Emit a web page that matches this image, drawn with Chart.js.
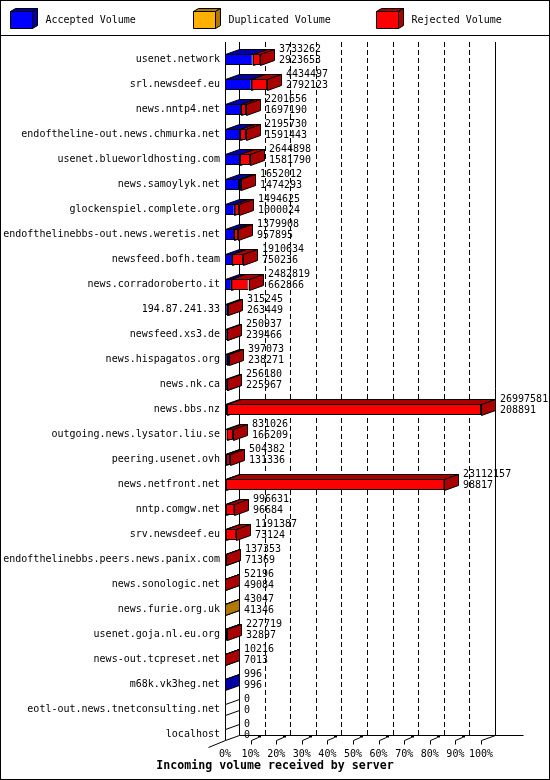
<!DOCTYPE html>
<html>
<head>
<meta charset="utf-8">
<script src="https://cdn.jsdelivr.net/npm/chart.js@4.4.0/dist/chart.umd.min.js"></script>
<style>
  html, body { margin: 0; padding: 0; background: #fff; }
  #chart { display: block; }
</style>
</head>
<body>
<canvas id="chart" width="550" height="780"></canvas>
<script>
// servers, in the order they are listed
const servers = [
  'usenet.network', 'srl.newsdeef.eu', 'news.nntp4.net', 'endoftheline-out.news.chmurka.net',
  'usenet.blueworldhosting.com', 'news.samoylyk.net', 'glockenspiel.complete.org',
  'endofthelinebbs-out.news.weretis.net', 'newsfeed.bofh.team', 'news.corradoroberto.it',
  '194.87.241.33', 'newsfeed.xs3.de', 'news.hispagatos.org', 'news.nk.ca', 'news.bbs.nz',
  'outgoing.news.lysator.liu.se', 'peering.usenet.ovh', 'news.netfront.net', 'nntp.comgw.net',
  'srv.newsdeef.eu', 'endofthelinebbs.peers.news.panix.com', 'news.sonologic.net',
  'news.furie.org.uk', 'usenet.goja.nl.eu.org', 'news-out.tcpreset.net', 'm68k.vk3heg.net',
  'eotl-out.news.tnetconsulting.net', 'localhost'
];

// volumes
const accepted = [2923653, 2792123, 1697190, 1591443, 1581790, 1474293, 1000024, 957895,
  750236, 662866, 263449, 239466, 238271, 225967, 208891, 166209, 131336, 98817, 96684,
  73124, 71369, 49084, 41346, 32897, 7013, 996, 0, 0];
const duplicated = [0, 0, 0, 0, 0, 0, 0, 0, 0, 0, 0, 0, 0, 0, 0, 0, 0, 0, 0, 0, 0, 0,
  1701, 0, 0, 0, 0, 0];
const rejected = [809609, 1642374, 504466, 604287, 1063108, 177719, 494601, 422013,
  1160398, 1819953, 51796, 11471, 158802, 30213, 26788690, 664817, 373046, 23013340,
  899947, 1118263, 65984, 3112, 0, 194822, 3203, 0, 0, 0];

const scaleMax = 26997581;
const xTickLabels = ['0%', '10%', '20%', '30%', '40%', '50%', '60%', '70%', '80%', '90%', '100%'];

const FONT = '"DejaVu Sans Mono", "Liberation Mono", monospace';
const depthX = 14;
const depthY = 5;

function poly(ctx, pts, fill) {
  ctx.beginPath();
  ctx.moveTo(pts[0][0], pts[0][1]);
  for (let i = 1; i < pts.length; i++) ctx.lineTo(pts[i][0], pts[i][1]);
  ctx.closePath();
  ctx.fillStyle = fill;
  ctx.fill();
  ctx.strokeStyle = '#000';
  ctx.lineWidth = 1;
  ctx.stroke();
}

function line(ctx, x1, y1, x2, y2) {
  ctx.beginPath();
  ctx.moveTo(x1, y1);
  ctx.lineTo(x2, y2);
  ctx.stroke();
}

// 3d look: walls, floor, top and side faces of the bars, labels, legend
const box3d = {
  id: 'box3d',
  beforeDatasetsDraw(chart) {
    const ctx = chart.ctx;
    const xs = chart.scales.x;
    const area = chart.chartArea;
    const x0 = Math.round(xs.getPixelForValue(0)) + 0.5;
    const x1 = Math.round(xs.getPixelForValue(scaleMax)) + 0.5;
    const top = area.top - 5;
    const floorFront = Math.round(area.bottom - 7) + 0.5;
    const floorBack = floorFront - depthY;

    ctx.save();
    ctx.strokeStyle = '#000';
    ctx.lineWidth = 1;

    // dashed grid on the back wall
    ctx.setLineDash([5, 3]);
    xs.ticks.forEach((t, i) => {
      if (i === 0 || i === xs.ticks.length - 1) return;
      const gx = Math.round(xs.getPixelForValue(t.value)) + depthX + 0.5;
      line(ctx, gx, top, gx, floorBack);
    });
    ctx.setLineDash([]);

    // walls and floor
    line(ctx, x0, top, x0, floorFront);
    line(ctx, x0 + depthX, top, x0 + depthX, floorBack);
    line(ctx, x1 + depthX, top, x1 + depthX, floorBack);
    line(ctx, x0 + depthX, floorBack, x1 + depthX + 28, floorBack);
    line(ctx, x1, floorFront, x1 + depthX, floorBack);
    line(ctx, x0 - 17, floorFront + 7, x0, floorFront);

    // tick marks on the floor
    xs.ticks.forEach((t, i) => {
      if (i === 0) return;
      const tx = Math.round(xs.getPixelForValue(t.value)) + 0.5;
      line(ctx, tx, floorFront, tx, floorFront + 4);
      if (i < xs.ticks.length - 1) {
        line(ctx, tx, floorFront, tx + 7, floorFront - 3);
        ctx.fillStyle = '#000';
        ctx.fillRect(tx + 6.5, floorFront - 5, 3, 2);
      }
    });

    // top and side faces
    chart.data.labels.forEach((_, row) => {
      let drawn = false;
      chart.data.datasets.forEach((ds, d) => {
        if (!ds.data[row]) return;
        const el = chart.getDatasetMeta(d).data[row];
        const l = Math.round(el.base) + 0.5;
        const r = Math.round(el.x) + 0.5;
        const t = Math.round(el.y - el.height / 2) + 0.5;
        const b = Math.round(el.y + el.height / 2) + 0.5;
        poly(ctx, [[l, t], [l + depthX, t - depthY], [r + depthX, t - depthY], [r, t]], ds.shade);
        poly(ctx, [[r, t], [r + depthX, t - depthY], [r + depthX, b - depthY], [r, b]], ds.shade);
        drawn = true;
      });
      if (!drawn) {
        const el = chart.getDatasetMeta(0).data[row];
        const t = Math.round(el.y - el.height / 2) + 0.5;
        const b = Math.round(el.y + el.height / 2) + 0.5;
        poly(ctx, [[x0, t], [x0 + depthX, t - depthY], [x0 + depthX, b - depthY], [x0, b]], '#fff');
      }
    });
    ctx.restore();
  },

  afterDatasetsDraw(chart) {
    const ctx = chart.ctx;
    const xs = chart.scales.x;
    const ys = chart.scales.y;
    ctx.save();
    ctx.font = '10px ' + FONT;
    ctx.fillStyle = '#000';
    ctx.textAlign = 'left';
    ctx.textBaseline = 'middle';
    servers.forEach((_, row) => {
      const total = accepted[row] + duplicated[row] + rejected[row];
      const px = Math.round(xs.getPixelForValue(total)) + depthX + 5;
      const cy = ys.getPixelForValue(row);
      ctx.fillText(String(total), px, cy - 10);
      ctx.fillText(String(accepted[row]), px, cy + 1);
    });
    ctx.restore();
  },

  afterDraw(chart) {
    const ctx = chart.ctx;
    ctx.save();
    ctx.strokeStyle = '#000';
    ctx.lineWidth = 1;

    // legend
    const legendX = [10, 193, 376];
    ctx.font = '10px ' + FONT;
    ctx.textBaseline = 'middle';
    ctx.textAlign = 'left';
    chart.data.datasets.forEach((ds, i) => {
      const lx = legendX[i] + 0.5, ty = 11.5, w = 22, h = 17;
      poly(ctx, [[lx, ty], [lx + 5, ty - 3], [lx + w + 5, ty - 3], [lx + w, ty]], ds.shade);
      poly(ctx, [[lx + w, ty], [lx + w + 5, ty - 3], [lx + w + 5, ty + h - 3], [lx + w, ty + h]], ds.shade);
      poly(ctx, [[lx, ty], [lx + w, ty], [lx + w, ty + h], [lx, ty + h]], ds.backgroundColor);
      ctx.fillStyle = '#000';
      ctx.fillText(ds.label, lx + 35, 20);
    });
    line(ctx, 0, 35.5, 550, 35.5);

    // axis title
    ctx.font = 'bold 11.6px ' + FONT;
    ctx.textAlign = 'center';
    ctx.fillText('Incoming volume received by server', 275, 766);

    // frame
    ctx.strokeRect(0.5, 0.5, 549, 779);
    ctx.restore();
  }
};

const chart = new Chart(document.getElementById('chart'), {
  type: 'bar',
  data: {
    labels: servers,
    datasets: [
      { label: 'Accepted Volume', data: accepted, backgroundColor: '#0000ff', shade: '#0000a8' },
      { label: 'Duplicated Volume', data: duplicated, backgroundColor: '#ffb000', shade: '#b07800' },
      { label: 'Rejected Volume', data: rejected, backgroundColor: '#ff0000', shade: '#aa0000' }
    ]
  },
  options: {
    indexAxis: 'y',
    responsive: false,
    animation: false,
    layout: { padding: { top: 47, right: 69, left: 0, bottom: 0 } },
    datasets: {
      bar: { barThickness: 11, borderWidth: 1, borderColor: '#000', borderSkipped: false, inflateAmount: 0 }
    },
    plugins: {
      legend: { display: false },
      tooltip: { enabled: false }
    },
    scales: {
      x: {
        stacked: true,
        min: 0,
        max: scaleMax,
        grid: { display: false, drawTicks: false },
        border: { display: false },
        afterBuildTicks: s => {
          s.ticks = xTickLabels.map((_, i) => ({ value: scaleMax * i / (xTickLabels.length - 1) }));
        },
        afterFit: s => { s.height = 33; },
        ticks: {
          autoSkip: false,
          maxRotation: 0,
          padding: 1,
          color: '#000',
          font: { family: FONT, size: 10 },
          callback: (v, i) => xTickLabels[i]
        }
      },
      y: {
        stacked: true,
        grid: { display: false, drawTicks: false },
        border: { display: false },
        afterFit: s => { s.width = 225; },
        ticks: {
          autoSkip: false,
          padding: 5,
          color: '#000',
          font: { family: FONT, size: 10 }
        }
      }
    }
  },
  plugins: [box3d]
});
</script>
</body>
</html>
